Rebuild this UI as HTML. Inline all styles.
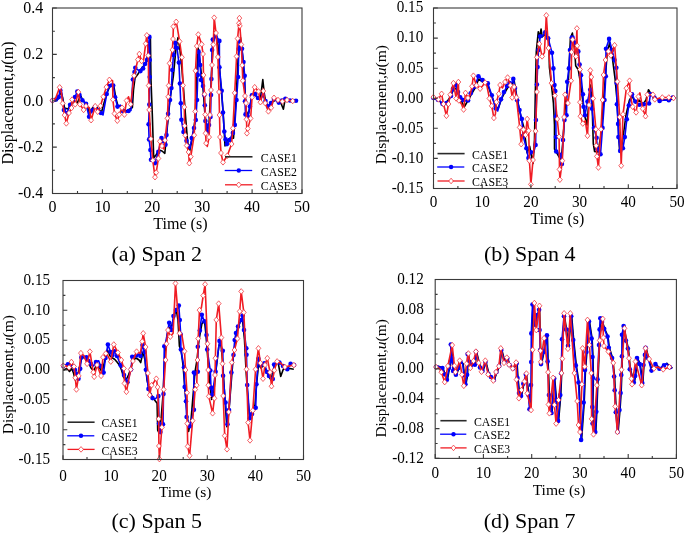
<!DOCTYPE html>
<html><head><meta charset="utf-8"><style>
html,body{margin:0;padding:0;background:#fff;}
svg{display:block;font-family:"Liberation Serif", serif;will-change:transform;}
</style></head><body>
<svg width="685" height="535" viewBox="0 0 685 535">
<rect width="685" height="535" fill="#fff"/>
<g><polyline points="52.5,100.8 55.0,101.0 58.0,99.0 60.8,92.0 62.5,97.0 64.5,108.0 68.0,109.0 71.0,104.0 74.0,101.0 77.3,102.8 79.0,99.0 80.9,96.1 83.0,101.0 86.5,104.0 89.5,113.0 92.5,108.0 95.5,106.0 98.5,109.0 101.5,112.2 104.0,103.0 107.0,93.0 110.0,86.0 113.8,86.0 115.8,98.0 118.0,106.0 121.0,106.0 124.0,110.0 127.0,111.0 130.0,109.0 132.4,107.5 133.5,90.0 135.0,78.0 138.0,74.0 141.8,67.8 145.8,63.9 148.0,55.0 150.4,37.6 151.0,80.3 152.3,114.4 153.7,157.9 156.0,155.0 159.0,150.0 162.0,151.0 164.8,153.3 167.5,125.0 170.0,100.0 173.4,75.7 176.0,48.1 178.0,37.6 180.0,50.0 182.0,70.0 184.0,95.0 185.8,119.7 187.5,140.0 189.1,153.9 192.0,140.0 195.0,120.0 196.5,80.0 198.1,48.1 200.0,62.0 203.0,88.0 205.0,115.0 207.0,130.0 209.0,125.0 211.0,85.0 213.0,45.0 215.1,31.7 218.0,45.0 220.0,75.0 223.0,110.0 225.0,146.0 227.5,140.0 230.0,138.0 233.5,138.1 236.0,100.0 238.0,60.0 240.5,37.6 242.5,55.0 244.5,80.0 246.0,110.0 248.0,116.0 250.0,106.0 252.0,96.0 255.0,95.0 258.0,98.0 260.5,98.0 262.8,79.6 264.4,94.7 266.0,103.0 268.5,106.0 272.0,102.0 276.0,100.0 280.0,101.0 283.4,109.2 285.0,100.0 290.0,101.0 296.0,100.8" fill="none" stroke="#000000" stroke-width="1.6" stroke-linejoin="round"/>
<polyline points="52.5,100.5 54.1,101.2 56.0,99.5 58.7,97.1 60.3,90.4 61.8,93.0 63.9,110.0 67.0,113.1 70.1,104.8 73.0,100.0 75.0,97.0 77.3,91.5 79.5,95.0 82.4,100.2 86.0,103.8 89.1,116.7 92.2,110.5 95.0,107.0 98.0,110.0 101.0,113.0 103.0,115.0 106.7,94.0 109.0,86.0 111.0,84.0 113.2,85.6 115.1,97.3 117.5,106.6 120.3,105.2 123.1,111.3 125.9,112.2 128.5,111.0 131.0,110.4 132.9,79.5 134.5,72.0 135.3,67.8 138.0,70.0 140.5,71.1 143.1,68.5 145.0,64.0 147.1,59.9 149.4,36.9 149.7,60.0 149.7,77.0 149.3,104.6 148.6,124.3 149.1,139.4 150.4,150.0 151.0,159.8 153.0,162.0 155.0,163.1 158.3,151.9 161.5,138.1 163.5,141.0 165.5,144.7 166.5,135.0 168.1,113.8 170.0,100.0 171.4,88.0 172.3,70.0 173.5,55.0 175.3,42.9 177.0,48.0 178.9,62.6 179.9,83.5 180.8,103.3 181.4,119.7 183.5,132.0 186.5,140.8 188.0,146.0 189.8,148.7 191.8,138.1 194.0,128.0 195.8,120.0 197.0,100.0 197.8,75.0 198.5,52.0 199.5,50.0 200.2,65.0 201.0,80.0 203.0,86.0 204.3,95.0 204.8,105.2 205.4,121.0 207.5,131.6 209.0,125.0 210.5,117.0 211.0,95.0 211.4,79.0 212.1,50.0 212.8,39.6 215.5,36.3 217.5,38.0 219.4,40.9 219.4,67.2 221.7,90.8 223.0,112.5 224.3,131.5 225.6,139.4 226.9,144.1 229.6,140.1 232.9,132.9 234.8,124.9 236.5,100.0 238.1,77.0 238.8,48.8 239.4,41.5 242.0,48.8 243.5,62.0 244.7,75.7 245.0,101.3 245.5,114.4 248.0,117.0 249.9,106.5 251.9,95.4 255.2,94.1 258.0,98.0 260.4,100.0 263.0,95.0 265.5,101.0 268.3,106.5 271.0,103.0 274.0,99.0 278.8,102.6 282.0,100.5 285.4,98.7 290.0,100.5 296.0,100.8" fill="none" stroke="#0000ff" stroke-width="1.6" stroke-linejoin="round"/>
<g fill="#0000ff"><circle cx="52.5" cy="100.5" r="2.3"/><circle cx="56.0" cy="99.5" r="2.3"/><circle cx="58.7" cy="97.1" r="2.3"/><circle cx="60.3" cy="90.4" r="2.3"/><circle cx="63.9" cy="110.0" r="2.3"/><circle cx="67.0" cy="113.1" r="2.3"/><circle cx="70.1" cy="104.8" r="2.3"/><circle cx="73.0" cy="100.0" r="2.3"/><circle cx="75.0" cy="97.0" r="2.3"/><circle cx="77.3" cy="91.5" r="2.3"/><circle cx="79.5" cy="95.0" r="2.3"/><circle cx="82.4" cy="100.2" r="2.3"/><circle cx="86.0" cy="103.8" r="2.3"/><circle cx="89.1" cy="116.7" r="2.3"/><circle cx="92.2" cy="110.5" r="2.3"/><circle cx="95.0" cy="107.0" r="2.3"/><circle cx="98.0" cy="110.0" r="2.3"/><circle cx="101.0" cy="113.0" r="2.3"/><circle cx="106.7" cy="94.0" r="2.3"/><circle cx="109.0" cy="86.0" r="2.3"/><circle cx="113.2" cy="85.6" r="2.3"/><circle cx="115.1" cy="97.3" r="2.3"/><circle cx="117.5" cy="106.6" r="2.3"/><circle cx="123.1" cy="111.3" r="2.3"/><circle cx="128.5" cy="111.0" r="2.3"/><circle cx="132.9" cy="79.5" r="2.3"/><circle cx="134.5" cy="72.0" r="2.3"/><circle cx="135.3" cy="67.8" r="2.3"/><circle cx="140.5" cy="71.1" r="2.3"/><circle cx="143.1" cy="68.5" r="2.3"/><circle cx="145.0" cy="64.0" r="2.3"/><circle cx="147.1" cy="59.9" r="2.3"/><circle cx="149.4" cy="36.9" r="2.3"/><circle cx="149.7" cy="60.0" r="2.3"/><circle cx="149.7" cy="77.0" r="2.3"/><circle cx="149.3" cy="104.6" r="2.3"/><circle cx="148.6" cy="124.3" r="2.3"/><circle cx="149.1" cy="139.4" r="2.3"/><circle cx="150.4" cy="150.0" r="2.3"/><circle cx="151.0" cy="159.8" r="2.3"/><circle cx="155.0" cy="163.1" r="2.3"/><circle cx="158.3" cy="151.9" r="2.3"/><circle cx="161.5" cy="138.1" r="2.3"/><circle cx="163.5" cy="141.0" r="2.3"/><circle cx="165.5" cy="144.7" r="2.3"/><circle cx="166.5" cy="135.0" r="2.3"/><circle cx="168.1" cy="113.8" r="2.3"/><circle cx="170.0" cy="100.0" r="2.3"/><circle cx="171.4" cy="88.0" r="2.3"/><circle cx="172.3" cy="70.0" r="2.3"/><circle cx="173.5" cy="55.0" r="2.3"/><circle cx="175.3" cy="42.9" r="2.3"/><circle cx="177.0" cy="48.0" r="2.3"/><circle cx="178.9" cy="62.6" r="2.3"/><circle cx="179.9" cy="83.5" r="2.3"/><circle cx="180.8" cy="103.3" r="2.3"/><circle cx="181.4" cy="119.7" r="2.3"/><circle cx="183.5" cy="132.0" r="2.3"/><circle cx="186.5" cy="140.8" r="2.3"/><circle cx="188.0" cy="146.0" r="2.3"/><circle cx="191.8" cy="138.1" r="2.3"/><circle cx="194.0" cy="128.0" r="2.3"/><circle cx="195.8" cy="120.0" r="2.3"/><circle cx="197.0" cy="100.0" r="2.3"/><circle cx="197.8" cy="75.0" r="2.3"/><circle cx="198.5" cy="52.0" r="2.3"/><circle cx="200.2" cy="65.0" r="2.3"/><circle cx="201.0" cy="80.0" r="2.3"/><circle cx="203.0" cy="86.0" r="2.3"/><circle cx="204.3" cy="95.0" r="2.3"/><circle cx="204.8" cy="105.2" r="2.3"/><circle cx="205.4" cy="121.0" r="2.3"/><circle cx="207.5" cy="131.6" r="2.3"/><circle cx="209.0" cy="125.0" r="2.3"/><circle cx="210.5" cy="117.0" r="2.3"/><circle cx="211.0" cy="95.0" r="2.3"/><circle cx="211.4" cy="79.0" r="2.3"/><circle cx="212.1" cy="50.0" r="2.3"/><circle cx="212.8" cy="39.6" r="2.3"/><circle cx="215.5" cy="36.3" r="2.3"/><circle cx="219.4" cy="40.9" r="2.3"/><circle cx="219.4" cy="67.2" r="2.3"/><circle cx="221.7" cy="90.8" r="2.3"/><circle cx="223.0" cy="112.5" r="2.3"/><circle cx="224.3" cy="131.5" r="2.3"/><circle cx="225.6" cy="139.4" r="2.3"/><circle cx="226.9" cy="144.1" r="2.3"/><circle cx="229.6" cy="140.1" r="2.3"/><circle cx="232.9" cy="132.9" r="2.3"/><circle cx="234.8" cy="124.9" r="2.3"/><circle cx="236.5" cy="100.0" r="2.3"/><circle cx="238.1" cy="77.0" r="2.3"/><circle cx="238.8" cy="48.8" r="2.3"/><circle cx="239.4" cy="41.5" r="2.3"/><circle cx="242.0" cy="48.8" r="2.3"/><circle cx="243.5" cy="62.0" r="2.3"/><circle cx="244.7" cy="75.7" r="2.3"/><circle cx="245.0" cy="101.3" r="2.3"/><circle cx="245.5" cy="114.4" r="2.3"/><circle cx="248.0" cy="117.0" r="2.3"/><circle cx="249.9" cy="106.5" r="2.3"/><circle cx="251.9" cy="95.4" r="2.3"/><circle cx="255.2" cy="94.1" r="2.3"/><circle cx="258.0" cy="98.0" r="2.3"/><circle cx="263.0" cy="95.0" r="2.3"/><circle cx="265.5" cy="101.0" r="2.3"/><circle cx="268.3" cy="106.5" r="2.3"/><circle cx="271.0" cy="103.0" r="2.3"/><circle cx="274.0" cy="99.0" r="2.3"/><circle cx="278.8" cy="102.6" r="2.3"/><circle cx="282.0" cy="100.5" r="2.3"/><circle cx="285.4" cy="98.7" r="2.3"/><circle cx="290.0" cy="100.5" r="2.3"/><circle cx="296.0" cy="100.8" r="2.3"/></g>
<polyline points="52.5,100.5 55.6,98.4 59.7,87.3 61.2,90.9 62.7,103.4 64.6,115.1 66.3,123.4 69.0,113.0 71.5,108.0 72.1,99.6 75.2,104.3 78.4,92.1 79.9,104.3 83.6,109.9 86.0,106.0 89.3,107.7 91.1,120.2 95.2,106.2 97.7,111.8 100.5,105.8 103.3,96.8 106.4,87.1 109.4,79.8 112.6,80.7 112.9,99.6 114.5,113.6 117.3,120.7 119.2,114.6 122.0,107.7 124.4,114.6 126.6,100.6 128.5,96.8 130.7,104.3 134.1,75.7 137.9,59.6 139.3,54.0 141.6,61.0 143.5,60.7 145.7,43.7 146.8,35.3 148.3,55.5 148.7,85.6 149.2,109.9 150.9,138.9 152.8,160.4 155.0,177.2 156.2,172.5 158.4,158.5 159.9,141.3 162.0,146.0 164.0,149.2 165.0,140.2 167.4,118.3 168.2,96.8 168.7,85.6 169.6,63.3 172.4,49.9 173.0,39.0 173.4,26.5 175.6,23.7 176.2,21.8 177.0,25.6 179.6,41.4 181.9,57.3 183.0,85.4 184.3,107.1 184.6,125.8 185.2,135.2 186.7,145.5 188.6,152.0 189.3,163.2 190.8,156.7 194.2,135.2 195.2,111.4 195.5,70.8 196.8,46.1 198.3,34.5 201.7,44.3 203.0,54.0 203.5,75.1 204.5,94.3 205.2,114.6 205.6,133.3 206.1,143.2 207.3,146.4 209.1,137.1 210.0,115.0 211.0,90.0 212.0,65.0 213.3,44.6 214.2,17.7 216.0,33.0 217.9,57.0 219.0,92.0 219.5,115.0 220.0,137.0 221.0,153.0 223.0,162.3 227.3,155.7 231.6,144.0 232.9,128.3 234.7,92.9 236.6,56.4 237.6,38.6 239.0,23.3 239.4,18.1 239.8,25.9 241.3,44.6 242.2,65.2 242.8,80.7 245.0,96.0 246.0,103.1 246.5,119.3 246.9,133.3 247.8,128.6 250.6,118.4 252.1,97.2 254.7,87.2 258.5,91.4 260.4,102.2 263.3,91.0 265.2,103.1 268.4,111.4 271.2,107.7 274.0,97.8 278.0,100.0 282.4,101.5 287.0,100.0 292.7,101.0" fill="none" stroke="#f01c24" stroke-width="1.6" stroke-linejoin="round"/>
<path d="M52.5 97.7L54.9 100.5L52.5 103.3L50.1 100.5ZM59.7 84.5L62.1 87.3L59.7 90.1L57.3 87.3ZM62.7 100.6L65.1 103.4L62.7 106.2L60.3 103.4ZM64.6 112.3L67.0 115.1L64.6 117.9L62.2 115.1ZM66.3 120.6L68.7 123.4L66.3 126.2L63.9 123.4ZM69.0 110.2L71.4 113.0L69.0 115.8L66.6 113.0ZM71.5 105.2L73.9 108.0L71.5 110.8L69.1 108.0ZM72.1 96.8L74.5 99.6L72.1 102.4L69.7 99.6ZM75.2 101.5L77.6 104.3L75.2 107.1L72.8 104.3ZM78.4 89.3L80.8 92.1L78.4 94.9L76.0 92.1ZM79.9 101.5L82.3 104.3L79.9 107.1L77.5 104.3ZM83.6 107.1L86.0 109.9L83.6 112.7L81.2 109.9ZM86.0 103.2L88.4 106.0L86.0 108.8L83.6 106.0ZM91.1 117.4L93.5 120.2L91.1 123.0L88.7 120.2ZM95.2 103.4L97.6 106.2L95.2 109.0L92.8 106.2ZM97.7 109.0L100.1 111.8L97.7 114.6L95.3 111.8ZM100.5 103.0L102.9 105.8L100.5 108.6L98.1 105.8ZM103.3 94.0L105.7 96.8L103.3 99.6L100.9 96.8ZM106.4 84.3L108.8 87.1L106.4 89.9L104.0 87.1ZM109.4 77.0L111.8 79.8L109.4 82.6L107.0 79.8ZM112.9 96.8L115.3 99.6L112.9 102.4L110.5 99.6ZM114.5 110.8L116.9 113.6L114.5 116.4L112.1 113.6ZM117.3 117.9L119.7 120.7L117.3 123.5L114.9 120.7ZM119.2 111.8L121.6 114.6L119.2 117.4L116.8 114.6ZM122.0 104.9L124.4 107.7L122.0 110.5L119.6 107.7ZM124.4 111.8L126.8 114.6L124.4 117.4L122.0 114.6ZM126.6 97.8L129.0 100.6L126.6 103.4L124.2 100.6ZM130.7 101.5L133.1 104.3L130.7 107.1L128.3 104.3ZM134.1 72.9L136.5 75.7L134.1 78.5L131.7 75.7ZM137.9 56.8L140.3 59.6L137.9 62.4L135.5 59.6ZM139.3 51.2L141.7 54.0L139.3 56.8L136.9 54.0ZM141.6 58.2L144.0 61.0L141.6 63.8L139.2 61.0ZM145.7 40.9L148.1 43.7L145.7 46.5L143.3 43.7ZM146.8 32.5L149.2 35.3L146.8 38.1L144.4 35.3ZM148.3 52.7L150.7 55.5L148.3 58.3L145.9 55.5ZM148.7 82.8L151.1 85.6L148.7 88.4L146.3 85.6ZM149.2 107.1L151.6 109.9L149.2 112.7L146.8 109.9ZM150.9 136.1L153.3 138.9L150.9 141.7L148.5 138.9ZM152.8 157.6L155.2 160.4L152.8 163.2L150.4 160.4ZM155.0 174.4L157.4 177.2L155.0 180.0L152.6 177.2ZM156.2 169.7L158.6 172.5L156.2 175.3L153.8 172.5ZM158.4 155.7L160.8 158.5L158.4 161.3L156.0 158.5ZM159.9 138.5L162.3 141.3L159.9 144.1L157.5 141.3ZM162.0 143.2L164.4 146.0L162.0 148.8L159.6 146.0ZM165.0 137.4L167.4 140.2L165.0 143.0L162.6 140.2ZM167.4 115.5L169.8 118.3L167.4 121.1L165.0 118.3ZM168.2 94.0L170.6 96.8L168.2 99.6L165.8 96.8ZM168.7 82.8L171.1 85.6L168.7 88.4L166.3 85.6ZM169.6 60.5L172.0 63.3L169.6 66.1L167.2 63.3ZM172.4 47.1L174.8 49.9L172.4 52.7L170.0 49.9ZM173.0 36.2L175.4 39.0L173.0 41.8L170.6 39.0ZM173.4 23.7L175.8 26.5L173.4 29.3L171.0 26.5ZM176.2 19.0L178.6 21.8L176.2 24.6L173.8 21.8ZM179.6 38.6L182.0 41.4L179.6 44.2L177.2 41.4ZM181.9 54.5L184.3 57.3L181.9 60.1L179.5 57.3ZM183.0 82.6L185.4 85.4L183.0 88.2L180.6 85.4ZM184.3 104.3L186.7 107.1L184.3 109.9L181.9 107.1ZM184.6 123.0L187.0 125.8L184.6 128.6L182.2 125.8ZM185.2 132.4L187.6 135.2L185.2 138.0L182.8 135.2ZM186.7 142.7L189.1 145.5L186.7 148.3L184.3 145.5ZM188.6 149.2L191.0 152.0L188.6 154.8L186.2 152.0ZM189.3 160.4L191.7 163.2L189.3 166.0L186.9 163.2ZM190.8 153.9L193.2 156.7L190.8 159.5L188.4 156.7ZM194.2 132.4L196.6 135.2L194.2 138.0L191.8 135.2ZM195.2 108.6L197.6 111.4L195.2 114.2L192.8 111.4ZM195.5 68.0L197.9 70.8L195.5 73.6L193.1 70.8ZM196.8 43.3L199.2 46.1L196.8 48.9L194.4 46.1ZM198.3 31.7L200.7 34.5L198.3 37.3L195.9 34.5ZM201.7 41.5L204.1 44.3L201.7 47.1L199.3 44.3ZM203.0 51.2L205.4 54.0L203.0 56.8L200.6 54.0ZM203.5 72.3L205.9 75.1L203.5 77.9L201.1 75.1ZM204.5 91.5L206.9 94.3L204.5 97.1L202.1 94.3ZM205.2 111.8L207.6 114.6L205.2 117.4L202.8 114.6ZM205.6 130.5L208.0 133.3L205.6 136.1L203.2 133.3ZM206.1 140.4L208.5 143.2L206.1 146.0L203.7 143.2ZM209.1 134.3L211.5 137.1L209.1 139.9L206.7 137.1ZM210.0 112.2L212.4 115.0L210.0 117.8L207.6 115.0ZM211.0 87.2L213.4 90.0L211.0 92.8L208.6 90.0ZM212.0 62.2L214.4 65.0L212.0 67.8L209.6 65.0ZM213.3 41.8L215.7 44.6L213.3 47.4L210.9 44.6ZM214.2 14.9L216.6 17.7L214.2 20.5L211.8 17.7ZM216.0 30.2L218.4 33.0L216.0 35.8L213.6 33.0ZM217.9 54.2L220.3 57.0L217.9 59.8L215.5 57.0ZM219.0 89.2L221.4 92.0L219.0 94.8L216.6 92.0ZM219.5 112.2L221.9 115.0L219.5 117.8L217.1 115.0ZM220.0 134.2L222.4 137.0L220.0 139.8L217.6 137.0ZM221.0 150.2L223.4 153.0L221.0 155.8L218.6 153.0ZM223.0 159.5L225.4 162.3L223.0 165.1L220.6 162.3ZM227.3 152.9L229.7 155.7L227.3 158.5L224.9 155.7ZM231.6 141.2L234.0 144.0L231.6 146.8L229.2 144.0ZM232.9 125.5L235.3 128.3L232.9 131.1L230.5 128.3ZM234.7 90.1L237.1 92.9L234.7 95.7L232.3 92.9ZM236.6 53.6L239.0 56.4L236.6 59.2L234.2 56.4ZM237.6 35.8L240.0 38.6L237.6 41.4L235.2 38.6ZM239.0 20.5L241.4 23.3L239.0 26.1L236.6 23.3ZM239.4 15.3L241.8 18.1L239.4 20.9L237.0 18.1ZM239.8 23.1L242.2 25.9L239.8 28.7L237.4 25.9ZM241.3 41.8L243.7 44.6L241.3 47.4L238.9 44.6ZM242.2 62.4L244.6 65.2L242.2 68.0L239.8 65.2ZM242.8 77.9L245.2 80.7L242.8 83.5L240.4 80.7ZM245.0 93.2L247.4 96.0L245.0 98.8L242.6 96.0ZM246.0 100.3L248.4 103.1L246.0 105.9L243.6 103.1ZM246.5 116.5L248.9 119.3L246.5 122.1L244.1 119.3ZM246.9 130.5L249.3 133.3L246.9 136.1L244.5 133.3ZM247.8 125.8L250.2 128.6L247.8 131.4L245.4 128.6ZM250.6 115.6L253.0 118.4L250.6 121.2L248.2 118.4ZM252.1 94.4L254.5 97.2L252.1 100.0L249.7 97.2ZM254.7 84.4L257.1 87.2L254.7 90.0L252.3 87.2ZM258.5 88.6L260.9 91.4L258.5 94.2L256.1 91.4ZM260.4 99.4L262.8 102.2L260.4 105.0L258.0 102.2ZM263.3 88.2L265.7 91.0L263.3 93.8L260.9 91.0ZM265.2 100.3L267.6 103.1L265.2 105.9L262.8 103.1ZM268.4 108.6L270.8 111.4L268.4 114.2L266.0 111.4ZM271.2 104.9L273.6 107.7L271.2 110.5L268.8 107.7ZM274.0 95.0L276.4 97.8L274.0 100.6L271.6 97.8ZM278.0 97.2L280.4 100.0L278.0 102.8L275.6 100.0ZM282.4 98.7L284.8 101.5L282.4 104.3L280.0 101.5ZM287.0 97.2L289.4 100.0L287.0 102.8L284.6 100.0ZM292.7 98.2L295.1 101.0L292.7 103.8L290.3 101.0Z" fill="#fff" stroke="#f01c24" stroke-width="0.7"/>
<rect x="52.5" y="8.0" width="249.5" height="185.5" fill="none" stroke="#3a3a3a" stroke-width="1.1"/>
<path d="M52.5 193.5H56.8M52.5 170.3H54.9M52.5 147.1H56.8M52.5 123.9H54.9M52.5 100.8H56.8M52.5 77.6H54.9M52.5 54.4H56.8M52.5 31.2H54.9M52.5 8.0H56.8M52.5 193.5V189.2M77.5 193.5V191.1M102.4 193.5V189.2M127.3 193.5V191.1M152.3 193.5V189.2M177.2 193.5V191.1M202.2 193.5V189.2M227.1 193.5V191.1M252.1 193.5V189.2M277.1 193.5V191.1M302.0 193.5V189.2" stroke="#3a3a3a" stroke-width="1.1" fill="none"/>
<g font-size="16.0"><text transform="translate(43.3 198.4) scale(1 1.02)" text-anchor="end">-0.4</text><text transform="translate(43.3 152.0) scale(1 1.02)" text-anchor="end">-0.2</text><text transform="translate(43.3 105.6) scale(1 1.02)" text-anchor="end">0.0</text><text transform="translate(43.3 59.3) scale(1 1.02)" text-anchor="end">0.2</text><text transform="translate(43.3 12.9) scale(1 1.02)" text-anchor="end">0.4</text><text transform="translate(52.5 211.7) scale(1 1.02)" text-anchor="middle">0</text><text transform="translate(102.4 211.7) scale(1 1.02)" text-anchor="middle">10</text><text transform="translate(152.3 211.7) scale(1 1.02)" text-anchor="middle">20</text><text transform="translate(202.2 211.7) scale(1 1.02)" text-anchor="middle">30</text><text transform="translate(252.1 211.7) scale(1 1.02)" text-anchor="middle">40</text><text transform="translate(302.0 211.7) scale(1 1.02)" text-anchor="middle">50</text></g>
<text x="180.4" y="229.3" font-size="16.10" text-anchor="middle">Time (s)</text>
<text x="156.7" y="260.5" font-size="22.0" text-anchor="middle">(a) Span 2</text>
<text transform="translate(12.9 164.6) rotate(-90)" font-size="16.0">Displacement,<tspan font-style="italic">u</tspan>(m)</text>
<line x1="225.0" y1="156.8" x2="252.5" y2="156.8" stroke="#2a2a2a" stroke-width="1.6"/>
<line x1="224.7" y1="170.5" x2="252.2" y2="170.5" stroke="#0000ff" stroke-width="1.3"/>
<circle cx="238.8" cy="170.5" r="2.2" fill="#0000ff"/>
<line x1="225.0" y1="184.8" x2="252.5" y2="184.8" stroke="#f01c24" stroke-width="1.3"/>
<path d="M238.8 182.0L241.2 184.8L238.8 187.6L236.3 184.8Z" fill="#fff" stroke="#f01c24" stroke-width="0.7"/>
<text x="260.8" y="162.0" font-size="11.8">CASE1</text>
<text x="260.8" y="175.7" font-size="11.8">CASE2</text>
<text x="260.8" y="190.0" font-size="11.8">CASE3</text></g>
<g><polyline points="433.4,98.5 438.0,100.0 440.5,102.0 443.1,105.7 446.5,102.0 449.0,99.0 451.5,94.0 453.5,90.0 456.0,88.0 458.5,95.0 461.0,100.0 464.2,107.0 466.5,103.0 469.0,99.0 471.5,94.0 475.0,88.0 478.8,79.0 482.8,82.0 486.0,84.0 488.5,87.0 492.0,97.0 495.5,106.0 498.0,109.0 501.5,99.0 504.5,93.0 507.5,88.0 510.0,85.0 511.0,86.0 514.0,80.0 517.0,98.0 521.0,117.0 524.0,128.0 527.1,152.9 529.7,146.3 533.0,163.4 534.5,140.0 535.6,78.3 536.3,51.4 538.3,31.7 539.5,38.0 541.1,29.0 542.2,36.9 545.0,34.0 548.8,38.2 549.4,67.1 550.7,78.3 553.4,102.9 554.5,125.0 554.5,149.0 558.0,155.0 561.2,160.7 563.0,140.0 565.0,110.0 567.0,90.0 568.5,78.3 570.4,38.2 572.4,33.0 574.4,47.4 575.7,65.8 578.3,69.8 580.0,80.0 582.0,95.0 584.5,115.0 587.0,125.0 589.0,100.0 590.5,85.0 592.0,100.0 593.3,143.7 594.6,151.5 598.0,152.0 601.0,135.0 603.5,100.0 605.5,76.0 607.0,55.0 609.7,42.2 612.0,55.0 615.0,78.3 617.0,100.0 619.6,151.5 622.0,145.0 624.0,130.0 626.0,115.0 629.4,100.2 632.0,96.0 635.5,103.0 639.0,100.0 643.0,104.0 646.0,100.0 648.5,89.7 651.0,94.0 655.0,98.0 660.0,100.0 668.0,100.0 673.0,99.0" fill="none" stroke="#000000" stroke-width="1.6" stroke-linejoin="round"/>
<polyline points="433.4,98.0 437.9,99.8 440.0,101.0 442.5,103.8 446.4,103.1 448.5,101.0 451.0,96.0 453.0,88.7 455.6,84.7 458.0,92.0 460.2,97.2 463.0,100.0 465.5,101.0 468.1,100.5 470.7,93.3 474.7,86.7 478.4,76.2 482.6,80.1 485.0,82.0 487.8,83.4 491.8,95.2 495.7,108.4 497.7,111.0 501.0,99.2 504.0,92.0 507.0,86.0 509.5,83.0 511.0,85.0 513.3,78.9 515.0,88.0 517.2,100.2 519.5,110.0 521.8,118.9 523.1,135.8 526.4,148.3 528.4,158.1 531.0,152.2 533.7,152.2 535.6,145.0 535.9,120.0 536.9,84.5 537.6,67.1 538.5,50.0 540.2,36.3 542.9,35.6 545.2,32.3 548.1,38.2 552.0,52.7 553.4,68.4 554.5,85.0 555.3,91.0 555.8,116.6 556.0,137.1 556.2,151.5 560.6,154.8 561.9,164.0 563.0,140.0 564.5,120.0 566.5,115.3 567.2,81.8 568.9,68.4 570.0,50.0 571.8,37.6 573.7,36.3 575.0,42.8 578.3,51.4 579.6,64.5 581.0,75.3 582.9,94.3 583.6,106.8 584.9,115.3 587.5,101.5 590.2,89.7 592.1,108.8 593.9,127.9 596.6,137.7 597.2,148.9 600.5,154.2 602.5,127.9 604.5,100.0 605.8,76.3 606.0,48.7 609.1,38.9 612.0,50.0 614.5,60.0 616.3,67.8 616.6,83.0 616.9,104.2 618.1,123.9 618.4,137.1 620.2,150.9 622.9,148.3 624.8,137.1 626.8,119.3 628.8,105.5 632.0,94.3 635.3,101.5 639.3,104.8 643.9,104.2 649.1,103.5 650.4,94.3 654.4,97.6 659.6,100.9 663.0,100.2 668.8,100.2 672.8,97.6 676.0,98.0" fill="none" stroke="#0000ff" stroke-width="1.6" stroke-linejoin="round"/>
<g fill="#0000ff"><circle cx="433.4" cy="98.0" r="2.3"/><circle cx="437.9" cy="99.8" r="2.3"/><circle cx="442.5" cy="103.8" r="2.3"/><circle cx="446.4" cy="103.1" r="2.3"/><circle cx="451.0" cy="96.0" r="2.3"/><circle cx="453.0" cy="88.7" r="2.3"/><circle cx="455.6" cy="84.7" r="2.3"/><circle cx="458.0" cy="92.0" r="2.3"/><circle cx="460.2" cy="97.2" r="2.3"/><circle cx="463.0" cy="100.0" r="2.3"/><circle cx="468.1" cy="100.5" r="2.3"/><circle cx="470.7" cy="93.3" r="2.3"/><circle cx="474.7" cy="86.7" r="2.3"/><circle cx="478.4" cy="76.2" r="2.3"/><circle cx="482.6" cy="80.1" r="2.3"/><circle cx="487.8" cy="83.4" r="2.3"/><circle cx="491.8" cy="95.2" r="2.3"/><circle cx="495.7" cy="108.4" r="2.3"/><circle cx="501.0" cy="99.2" r="2.3"/><circle cx="504.0" cy="92.0" r="2.3"/><circle cx="507.0" cy="86.0" r="2.3"/><circle cx="509.5" cy="83.0" r="2.3"/><circle cx="513.3" cy="78.9" r="2.3"/><circle cx="515.0" cy="88.0" r="2.3"/><circle cx="517.2" cy="100.2" r="2.3"/><circle cx="519.5" cy="110.0" r="2.3"/><circle cx="521.8" cy="118.9" r="2.3"/><circle cx="523.1" cy="135.8" r="2.3"/><circle cx="526.4" cy="148.3" r="2.3"/><circle cx="528.4" cy="158.1" r="2.3"/><circle cx="531.0" cy="152.2" r="2.3"/><circle cx="535.6" cy="145.0" r="2.3"/><circle cx="535.9" cy="120.0" r="2.3"/><circle cx="536.9" cy="84.5" r="2.3"/><circle cx="537.6" cy="67.1" r="2.3"/><circle cx="538.5" cy="50.0" r="2.3"/><circle cx="540.2" cy="36.3" r="2.3"/><circle cx="545.2" cy="32.3" r="2.3"/><circle cx="548.1" cy="38.2" r="2.3"/><circle cx="552.0" cy="52.7" r="2.3"/><circle cx="553.4" cy="68.4" r="2.3"/><circle cx="554.5" cy="85.0" r="2.3"/><circle cx="555.3" cy="91.0" r="2.3"/><circle cx="555.8" cy="116.6" r="2.3"/><circle cx="556.0" cy="137.1" r="2.3"/><circle cx="556.2" cy="151.5" r="2.3"/><circle cx="560.6" cy="154.8" r="2.3"/><circle cx="561.9" cy="164.0" r="2.3"/><circle cx="563.0" cy="140.0" r="2.3"/><circle cx="564.5" cy="120.0" r="2.3"/><circle cx="566.5" cy="115.3" r="2.3"/><circle cx="567.2" cy="81.8" r="2.3"/><circle cx="568.9" cy="68.4" r="2.3"/><circle cx="570.0" cy="50.0" r="2.3"/><circle cx="571.8" cy="37.6" r="2.3"/><circle cx="575.0" cy="42.8" r="2.3"/><circle cx="578.3" cy="51.4" r="2.3"/><circle cx="579.6" cy="64.5" r="2.3"/><circle cx="581.0" cy="75.3" r="2.3"/><circle cx="582.9" cy="94.3" r="2.3"/><circle cx="583.6" cy="106.8" r="2.3"/><circle cx="584.9" cy="115.3" r="2.3"/><circle cx="587.5" cy="101.5" r="2.3"/><circle cx="590.2" cy="89.7" r="2.3"/><circle cx="592.1" cy="108.8" r="2.3"/><circle cx="593.9" cy="127.9" r="2.3"/><circle cx="596.6" cy="137.7" r="2.3"/><circle cx="597.2" cy="148.9" r="2.3"/><circle cx="600.5" cy="154.2" r="2.3"/><circle cx="602.5" cy="127.9" r="2.3"/><circle cx="604.5" cy="100.0" r="2.3"/><circle cx="605.8" cy="76.3" r="2.3"/><circle cx="606.0" cy="48.7" r="2.3"/><circle cx="609.1" cy="38.9" r="2.3"/><circle cx="612.0" cy="50.0" r="2.3"/><circle cx="614.5" cy="60.0" r="2.3"/><circle cx="616.3" cy="67.8" r="2.3"/><circle cx="616.6" cy="83.0" r="2.3"/><circle cx="616.9" cy="104.2" r="2.3"/><circle cx="618.1" cy="123.9" r="2.3"/><circle cx="618.4" cy="137.1" r="2.3"/><circle cx="620.2" cy="150.9" r="2.3"/><circle cx="622.9" cy="148.3" r="2.3"/><circle cx="624.8" cy="137.1" r="2.3"/><circle cx="626.8" cy="119.3" r="2.3"/><circle cx="628.8" cy="105.5" r="2.3"/><circle cx="632.0" cy="94.3" r="2.3"/><circle cx="635.3" cy="101.5" r="2.3"/><circle cx="639.3" cy="104.8" r="2.3"/><circle cx="643.9" cy="104.2" r="2.3"/><circle cx="649.1" cy="103.5" r="2.3"/><circle cx="650.4" cy="94.3" r="2.3"/><circle cx="654.4" cy="97.6" r="2.3"/><circle cx="659.6" cy="100.9" r="2.3"/><circle cx="668.8" cy="100.2" r="2.3"/><circle cx="672.8" cy="97.6" r="2.3"/></g>
<polyline points="433.4,97.1 438.4,99.4 441.6,93.8 443.5,104.0 446.4,115.8 448.5,104.0 450.2,94.7 453.4,83.1 456.2,98.5 458.4,82.0 458.9,100.5 461.5,104.0 463.6,109.6 465.5,92.9 468.0,98.0 470.2,94.7 472.0,86.3 473.4,75.7 476.4,85.4 480.1,88.7 482.5,86.0 485.1,82.6 487.0,86.3 489.4,98.4 491.7,105.9 493.9,118.0 495.4,113.9 496.4,102.1 498.8,93.8 500.1,85.0 502.5,88.0 505.0,82.0 507.6,77.5 510.4,85.4 512.2,97.5 514.1,86.9 516.4,97.5 519.7,127.4 521.2,144.2 523.5,129.6 525.5,135.0 527.2,119.0 528.7,130.7 529.4,160.7 530.9,184.4 533.0,160.0 535.6,131.1 536.9,91.9 536.9,57.3 539.3,43.9 542.1,56.4 544.4,52.7 546.3,15.3 548.5,48.0 551.5,83.1 554.9,95.7 557.2,119.0 559.1,136.7 559.5,169.4 559.9,179.7 562.3,160.7 564.1,117.1 565.1,94.7 567.9,103.1 571.1,80.7 571.6,52.1 572.6,39.6 575.9,56.4 576.9,28.4 577.2,45.7 580.0,69.5 580.0,102.2 580.4,116.2 582.8,123.6 585.3,120.8 587.5,135.8 589.0,105.0 590.3,70.4 591.3,77.0 593.1,98.5 595.9,129.3 596.2,145.7 596.9,156.4 598.4,167.6 601.0,129.3 602.5,100.0 603.5,75.0 605.5,60.0 608.4,51.4 610.9,55.5 614.6,45.2 617.4,81.6 619.7,117.1 621.2,165.7 623.0,114.3 626.4,88.2 629.6,80.7 630.1,93.8 632.7,106.8 636.1,112.4 638.4,96.6 639.9,92.9 642.7,108.7 645.5,116.2 647.3,94.7 652.9,94.7 654.8,99.4 662.3,97.5 668.8,97.5 673.5,98.1" fill="none" stroke="#f01c24" stroke-width="1.6" stroke-linejoin="round"/>
<path d="M433.4 94.3L435.8 97.1L433.4 99.9L431.0 97.1ZM438.4 96.6L440.8 99.4L438.4 102.2L436.0 99.4ZM441.6 91.0L444.0 93.8L441.6 96.6L439.2 93.8ZM443.5 101.2L445.9 104.0L443.5 106.8L441.1 104.0ZM446.4 113.0L448.8 115.8L446.4 118.6L444.0 115.8ZM448.5 101.2L450.9 104.0L448.5 106.8L446.1 104.0ZM450.2 91.9L452.6 94.7L450.2 97.5L447.8 94.7ZM453.4 80.3L455.8 83.1L453.4 85.9L451.0 83.1ZM456.2 95.7L458.6 98.5L456.2 101.3L453.8 98.5ZM458.4 79.2L460.8 82.0L458.4 84.8L456.0 82.0ZM458.9 97.7L461.3 100.5L458.9 103.3L456.5 100.5ZM463.6 106.8L466.0 109.6L463.6 112.4L461.2 109.6ZM465.5 90.1L467.9 92.9L465.5 95.7L463.1 92.9ZM468.0 95.2L470.4 98.0L468.0 100.8L465.6 98.0ZM472.0 83.5L474.4 86.3L472.0 89.1L469.6 86.3ZM473.4 72.9L475.8 75.7L473.4 78.5L471.0 75.7ZM476.4 82.6L478.8 85.4L476.4 88.2L474.0 85.4ZM480.1 85.9L482.5 88.7L480.1 91.5L477.7 88.7ZM485.1 79.8L487.5 82.6L485.1 85.4L482.7 82.6ZM489.4 95.6L491.8 98.4L489.4 101.2L487.0 98.4ZM491.7 103.1L494.1 105.9L491.7 108.7L489.3 105.9ZM493.9 115.2L496.3 118.0L493.9 120.8L491.5 118.0ZM496.4 99.3L498.8 102.1L496.4 104.9L494.0 102.1ZM498.8 91.0L501.2 93.8L498.8 96.6L496.4 93.8ZM500.1 82.2L502.5 85.0L500.1 87.8L497.7 85.0ZM505.0 79.2L507.4 82.0L505.0 84.8L502.6 82.0ZM507.6 74.7L510.0 77.5L507.6 80.3L505.2 77.5ZM510.4 82.6L512.8 85.4L510.4 88.2L508.0 85.4ZM512.2 94.7L514.6 97.5L512.2 100.3L509.8 97.5ZM514.1 84.1L516.5 86.9L514.1 89.7L511.7 86.9ZM516.4 94.7L518.8 97.5L516.4 100.3L514.0 97.5ZM519.7 124.6L522.1 127.4L519.7 130.2L517.3 127.4ZM521.2 141.4L523.6 144.2L521.2 147.0L518.8 144.2ZM523.5 126.8L525.9 129.6L523.5 132.4L521.1 129.6ZM525.5 132.2L527.9 135.0L525.5 137.8L523.1 135.0ZM527.2 116.2L529.6 119.0L527.2 121.8L524.8 119.0ZM528.7 127.9L531.1 130.7L528.7 133.5L526.3 130.7ZM529.4 157.9L531.8 160.7L529.4 163.5L527.0 160.7ZM530.9 181.6L533.3 184.4L530.9 187.2L528.5 184.4ZM533.0 157.2L535.4 160.0L533.0 162.8L530.6 160.0ZM535.6 128.3L538.0 131.1L535.6 133.9L533.2 131.1ZM536.9 89.1L539.3 91.9L536.9 94.7L534.5 91.9ZM536.9 54.5L539.3 57.3L536.9 60.1L534.5 57.3ZM539.3 41.1L541.7 43.9L539.3 46.7L536.9 43.9ZM542.1 53.6L544.5 56.4L542.1 59.2L539.7 56.4ZM546.3 12.5L548.7 15.3L546.3 18.1L543.9 15.3ZM548.5 45.2L550.9 48.0L548.5 50.8L546.1 48.0ZM551.5 80.3L553.9 83.1L551.5 85.9L549.1 83.1ZM554.9 92.9L557.3 95.7L554.9 98.5L552.5 95.7ZM557.2 116.2L559.6 119.0L557.2 121.8L554.8 119.0ZM559.1 133.9L561.5 136.7L559.1 139.5L556.7 136.7ZM559.5 166.6L561.9 169.4L559.5 172.2L557.1 169.4ZM559.9 176.9L562.3 179.7L559.9 182.5L557.5 179.7ZM562.3 157.9L564.7 160.7L562.3 163.5L559.9 160.7ZM564.1 114.3L566.5 117.1L564.1 119.9L561.7 117.1ZM565.1 91.9L567.5 94.7L565.1 97.5L562.7 94.7ZM567.9 100.3L570.3 103.1L567.9 105.9L565.5 103.1ZM571.1 77.9L573.5 80.7L571.1 83.5L568.7 80.7ZM571.6 49.3L574.0 52.1L571.6 54.9L569.2 52.1ZM572.6 36.8L575.0 39.6L572.6 42.4L570.2 39.6ZM575.9 53.6L578.3 56.4L575.9 59.2L573.5 56.4ZM576.9 25.6L579.3 28.4L576.9 31.2L574.5 28.4ZM577.2 42.9L579.6 45.7L577.2 48.5L574.8 45.7ZM580.0 66.7L582.4 69.5L580.0 72.3L577.6 69.5ZM580.0 99.4L582.4 102.2L580.0 105.0L577.6 102.2ZM580.4 113.4L582.8 116.2L580.4 119.0L578.0 116.2ZM582.8 120.8L585.2 123.6L582.8 126.4L580.4 123.6ZM587.5 133.0L589.9 135.8L587.5 138.6L585.1 135.8ZM589.0 102.2L591.4 105.0L589.0 107.8L586.6 105.0ZM590.3 67.6L592.7 70.4L590.3 73.2L587.9 70.4ZM591.3 74.2L593.7 77.0L591.3 79.8L588.9 77.0ZM593.1 95.7L595.5 98.5L593.1 101.3L590.7 98.5ZM595.9 126.5L598.3 129.3L595.9 132.1L593.5 129.3ZM596.2 142.9L598.6 145.7L596.2 148.5L593.8 145.7ZM596.9 153.6L599.3 156.4L596.9 159.2L594.5 156.4ZM598.4 164.8L600.8 167.6L598.4 170.4L596.0 167.6ZM601.0 126.5L603.4 129.3L601.0 132.1L598.6 129.3ZM602.5 97.2L604.9 100.0L602.5 102.8L600.1 100.0ZM603.5 72.2L605.9 75.0L603.5 77.8L601.1 75.0ZM605.5 57.2L607.9 60.0L605.5 62.8L603.1 60.0ZM608.4 48.6L610.8 51.4L608.4 54.2L606.0 51.4ZM610.9 52.7L613.3 55.5L610.9 58.3L608.5 55.5ZM614.6 42.4L617.0 45.2L614.6 48.0L612.2 45.2ZM617.4 78.8L619.8 81.6L617.4 84.4L615.0 81.6ZM619.7 114.3L622.1 117.1L619.7 119.9L617.3 117.1ZM621.2 162.9L623.6 165.7L621.2 168.5L618.8 165.7ZM623.0 111.5L625.4 114.3L623.0 117.1L620.6 114.3ZM626.4 85.4L628.8 88.2L626.4 91.0L624.0 88.2ZM629.6 77.9L632.0 80.7L629.6 83.5L627.2 80.7ZM630.1 91.0L632.5 93.8L630.1 96.6L627.7 93.8ZM632.7 104.0L635.1 106.8L632.7 109.6L630.3 106.8ZM636.1 109.6L638.5 112.4L636.1 115.2L633.7 112.4ZM638.4 93.8L640.8 96.6L638.4 99.4L636.0 96.6ZM642.7 105.9L645.1 108.7L642.7 111.5L640.3 108.7ZM645.5 113.4L647.9 116.2L645.5 119.0L643.1 116.2ZM647.3 91.9L649.7 94.7L647.3 97.5L644.9 94.7ZM652.9 91.9L655.3 94.7L652.9 97.5L650.5 94.7ZM654.8 96.6L657.2 99.4L654.8 102.2L652.4 99.4ZM662.3 94.7L664.7 97.5L662.3 100.3L659.9 97.5ZM668.8 94.7L671.2 97.5L668.8 100.3L666.4 97.5ZM673.5 95.3L675.9 98.1L673.5 100.9L671.1 98.1Z" fill="#fff" stroke="#f01c24" stroke-width="0.7"/>
<rect x="433.5" y="8.0" width="243.5" height="180.5" fill="none" stroke="#3a3a3a" stroke-width="1.1"/>
<path d="M433.5 188.5H437.8M433.5 173.5H435.9M433.5 158.4H437.8M433.5 143.4H435.9M433.5 128.3H437.8M433.5 113.3H435.9M433.5 98.2H437.8M433.5 83.2H435.9M433.5 68.2H437.8M433.5 53.1H435.9M433.5 38.1H437.8M433.5 23.0H435.9M433.5 8.0H437.8M433.5 188.5V184.2M457.9 188.5V186.1M482.2 188.5V184.2M506.6 188.5V186.1M530.9 188.5V184.2M555.2 188.5V186.1M579.6 188.5V184.2M604.0 188.5V186.1M628.3 188.5V184.2M652.6 188.5V186.1M677.0 188.5V184.2" stroke="#3a3a3a" stroke-width="1.1" fill="none"/>
<g font-size="15.2"><text transform="translate(423.3 192.8) scale(1 1.12)" text-anchor="end">-0.15</text><text transform="translate(423.3 162.7) scale(1 1.12)" text-anchor="end">-0.10</text><text transform="translate(423.3 132.7) scale(1 1.12)" text-anchor="end">-0.05</text><text transform="translate(423.3 102.6) scale(1 1.12)" text-anchor="end">0.00</text><text transform="translate(423.3 72.5) scale(1 1.12)" text-anchor="end">0.05</text><text transform="translate(423.3 42.4) scale(1 1.12)" text-anchor="end">0.10</text><text transform="translate(423.3 12.3) scale(1 1.12)" text-anchor="end">0.15</text><text transform="translate(433.5 207.4) scale(1 1.12)" text-anchor="middle">0</text><text transform="translate(482.2 207.4) scale(1 1.12)" text-anchor="middle">10</text><text transform="translate(530.9 207.4) scale(1 1.12)" text-anchor="middle">20</text><text transform="translate(579.6 207.4) scale(1 1.12)" text-anchor="middle">30</text><text transform="translate(628.3 207.4) scale(1 1.12)" text-anchor="middle">40</text><text transform="translate(677.0 207.4) scale(1 1.12)" text-anchor="middle">50</text></g>
<text x="557.4" y="224.4" font-size="15.85" text-anchor="middle">Time (s)</text>
<text x="529.8" y="260.7" font-size="22.0" text-anchor="middle">(b) Span 4</text>
<text transform="translate(386.0 164.3) rotate(-90)" font-size="15.5">Displacement,<tspan font-style="italic">u</tspan>(m)</text>
<line x1="437.5" y1="153.6" x2="464.6" y2="153.6" stroke="#2a2a2a" stroke-width="1.6"/>
<line x1="437.2" y1="167.0" x2="464.3" y2="167.0" stroke="#0000ff" stroke-width="1.3"/>
<circle cx="451.1" cy="167.0" r="2.2" fill="#0000ff"/>
<line x1="437.5" y1="181.0" x2="464.6" y2="181.0" stroke="#f01c24" stroke-width="1.3"/>
<path d="M451.1 178.2L453.4 181.0L451.1 183.8L448.7 181.0Z" fill="#fff" stroke="#f01c24" stroke-width="0.7"/>
<text x="472.0" y="158.8" font-size="11.8">CASE1</text>
<text x="472.0" y="172.2" font-size="11.8">CASE2</text>
<text x="472.0" y="186.2" font-size="11.8">CASE3</text></g>
<g><polyline points="63.3,370.4 65.5,369.0 67.3,368.7 69.5,371.5 71.8,368.7 73.5,373.0 75.2,379.9 77.5,376.0 80.0,365.0 82.0,357.0 85.0,358.0 88.0,362.0 91.0,368.0 93.7,370.9 96.0,366.0 99.8,368.1 102.0,372.0 104.5,362.0 107.5,350.0 110.0,356.0 112.5,358.0 114.6,359.2 117.0,362.0 119.5,365.3 121.5,370.0 123.7,377.4 126.0,380.0 128.5,375.0 131.0,368.0 133.0,360.0 136.0,358.0 139.0,360.0 140.7,362.6 143.0,352.0 145.0,360.0 147.0,380.0 150.0,392.0 153.0,398.0 157.1,403.3 157.7,430.1 159.0,433.0 161.0,420.0 163.0,395.0 165.0,352.0 168.0,330.0 172.0,325.0 176.1,308.9 178.0,320.0 179.4,346.3 181.0,350.0 183.0,365.0 185.0,390.0 188.6,431.4 191.0,420.0 193.5,390.0 195.0,372.0 197.0,360.0 199.0,340.0 201.8,324.0 204.4,320.0 206.0,335.0 207.5,355.0 209.5,380.0 211.6,399.4 214.0,390.0 216.0,370.0 219.0,345.0 221.0,345.0 222.5,360.0 224.0,385.0 226.8,426.8 229.0,410.0 231.0,385.0 233.0,360.0 236.0,335.0 240.0,322.0 242.5,320.0 244.5,340.0 246.0,370.0 248.0,400.0 249.5,417.0 252.0,412.0 255.0,405.0 256.5,385.0 258.5,365.0 261.0,368.0 264.0,365.0 268.0,375.0 271.0,380.0 274.0,367.0 278.0,362.0 280.7,376.4 283.3,369.2 287.0,368.0 293.8,369.2" fill="none" stroke="#000000" stroke-width="1.6" stroke-linejoin="round"/>
<polyline points="63.3,366.0 65.5,365.0 67.9,364.2 70.5,364.0 73.0,366.0 75.0,370.0 76.8,374.3 78.5,378.8 80.2,368.7 81.3,357.4 83.5,356.0 86.4,357.4 88.5,361.0 91.0,364.0 93.5,366.0 96.0,362.0 98.7,360.8 100.5,366.0 103.6,372.6 105.5,358.0 107.9,344.6 110.5,352.0 112.5,355.0 114.6,351.3 117.0,356.0 120.7,365.3 124.0,375.0 127.4,382.3 131.0,369.5 132.2,356.8 136.5,355.5 139.0,354.0 140.5,356.0 142.5,345.0 144.6,352.1 145.9,369.8 148.5,388.9 152.5,398.1 155.0,399.0 158.4,396.1 159.1,423.5 160.4,432.1 163.0,424.2 163.5,394.1 164.3,346.2 165.0,346.3 169.2,322.7 171.5,329.9 173.5,316.1 176.0,310.0 178.8,305.6 179.8,320.0 180.7,334.5 180.9,349.5 184.0,367.2 184.7,386.9 186.0,401.2 186.6,417.0 189.9,426.2 193.9,409.7 193.9,372.5 196.0,375.0 197.8,371.8 197.8,346.8 199.8,330.6 201.8,314.8 204.4,321.4 205.7,322.0 206.5,335.0 207.2,349.5 210.3,370.5 211.0,387.6 212.3,394.8 215.6,371.8 219.5,340.9 222.8,350.8 223.1,375.7 225.5,402.5 227.5,424.2 229.0,410.0 231.4,372.5 233.5,355.0 234.7,340.0 236.0,333.0 238.0,326.6 241.3,320.0 242.6,315.5 244.0,330.0 246.3,348.3 246.5,354.7 247.2,385.0 249.8,418.3 252.0,414.0 255.7,407.8 256.4,384.3 258.4,358.7 261.0,365.0 264.3,363.3 267.0,372.0 269.0,376.0 272.8,379.0 274.1,364.6 279.4,362.6 283.0,366.0 287.3,369.2 290.6,363.9 294.0,365.0" fill="none" stroke="#0000ff" stroke-width="1.6" stroke-linejoin="round"/>
<g fill="#0000ff"><circle cx="63.3" cy="366.0" r="2.3"/><circle cx="67.9" cy="364.2" r="2.3"/><circle cx="73.0" cy="366.0" r="2.3"/><circle cx="75.0" cy="370.0" r="2.3"/><circle cx="76.8" cy="374.3" r="2.3"/><circle cx="78.5" cy="378.8" r="2.3"/><circle cx="80.2" cy="368.7" r="2.3"/><circle cx="81.3" cy="357.4" r="2.3"/><circle cx="86.4" cy="357.4" r="2.3"/><circle cx="88.5" cy="361.0" r="2.3"/><circle cx="91.0" cy="364.0" r="2.3"/><circle cx="96.0" cy="362.0" r="2.3"/><circle cx="100.5" cy="366.0" r="2.3"/><circle cx="103.6" cy="372.6" r="2.3"/><circle cx="105.5" cy="358.0" r="2.3"/><circle cx="107.9" cy="344.6" r="2.3"/><circle cx="110.5" cy="352.0" r="2.3"/><circle cx="112.5" cy="355.0" r="2.3"/><circle cx="114.6" cy="351.3" r="2.3"/><circle cx="117.0" cy="356.0" r="2.3"/><circle cx="120.7" cy="365.3" r="2.3"/><circle cx="124.0" cy="375.0" r="2.3"/><circle cx="127.4" cy="382.3" r="2.3"/><circle cx="131.0" cy="369.5" r="2.3"/><circle cx="132.2" cy="356.8" r="2.3"/><circle cx="136.5" cy="355.5" r="2.3"/><circle cx="140.5" cy="356.0" r="2.3"/><circle cx="142.5" cy="345.0" r="2.3"/><circle cx="144.6" cy="352.1" r="2.3"/><circle cx="145.9" cy="369.8" r="2.3"/><circle cx="148.5" cy="388.9" r="2.3"/><circle cx="152.5" cy="398.1" r="2.3"/><circle cx="158.4" cy="396.1" r="2.3"/><circle cx="159.1" cy="423.5" r="2.3"/><circle cx="160.4" cy="432.1" r="2.3"/><circle cx="163.0" cy="424.2" r="2.3"/><circle cx="163.5" cy="394.1" r="2.3"/><circle cx="164.3" cy="346.2" r="2.3"/><circle cx="169.2" cy="322.7" r="2.3"/><circle cx="171.5" cy="329.9" r="2.3"/><circle cx="173.5" cy="316.1" r="2.3"/><circle cx="176.0" cy="310.0" r="2.3"/><circle cx="178.8" cy="305.6" r="2.3"/><circle cx="179.8" cy="320.0" r="2.3"/><circle cx="180.7" cy="334.5" r="2.3"/><circle cx="180.9" cy="349.5" r="2.3"/><circle cx="184.0" cy="367.2" r="2.3"/><circle cx="184.7" cy="386.9" r="2.3"/><circle cx="186.0" cy="401.2" r="2.3"/><circle cx="186.6" cy="417.0" r="2.3"/><circle cx="189.9" cy="426.2" r="2.3"/><circle cx="193.9" cy="409.7" r="2.3"/><circle cx="193.9" cy="372.5" r="2.3"/><circle cx="197.8" cy="371.8" r="2.3"/><circle cx="197.8" cy="346.8" r="2.3"/><circle cx="199.8" cy="330.6" r="2.3"/><circle cx="201.8" cy="314.8" r="2.3"/><circle cx="204.4" cy="321.4" r="2.3"/><circle cx="206.5" cy="335.0" r="2.3"/><circle cx="207.2" cy="349.5" r="2.3"/><circle cx="210.3" cy="370.5" r="2.3"/><circle cx="211.0" cy="387.6" r="2.3"/><circle cx="212.3" cy="394.8" r="2.3"/><circle cx="215.6" cy="371.8" r="2.3"/><circle cx="219.5" cy="340.9" r="2.3"/><circle cx="222.8" cy="350.8" r="2.3"/><circle cx="223.1" cy="375.7" r="2.3"/><circle cx="225.5" cy="402.5" r="2.3"/><circle cx="227.5" cy="424.2" r="2.3"/><circle cx="229.0" cy="410.0" r="2.3"/><circle cx="231.4" cy="372.5" r="2.3"/><circle cx="233.5" cy="355.0" r="2.3"/><circle cx="234.7" cy="340.0" r="2.3"/><circle cx="236.0" cy="333.0" r="2.3"/><circle cx="238.0" cy="326.6" r="2.3"/><circle cx="241.3" cy="320.0" r="2.3"/><circle cx="242.6" cy="315.5" r="2.3"/><circle cx="244.0" cy="330.0" r="2.3"/><circle cx="246.3" cy="348.3" r="2.3"/><circle cx="246.5" cy="354.7" r="2.3"/><circle cx="247.2" cy="385.0" r="2.3"/><circle cx="249.8" cy="418.3" r="2.3"/><circle cx="252.0" cy="414.0" r="2.3"/><circle cx="255.7" cy="407.8" r="2.3"/><circle cx="256.4" cy="384.3" r="2.3"/><circle cx="258.4" cy="358.7" r="2.3"/><circle cx="261.0" cy="365.0" r="2.3"/><circle cx="264.3" cy="363.3" r="2.3"/><circle cx="267.0" cy="372.0" r="2.3"/><circle cx="269.0" cy="376.0" r="2.3"/><circle cx="272.8" cy="379.0" r="2.3"/><circle cx="274.1" cy="364.6" r="2.3"/><circle cx="279.4" cy="362.6" r="2.3"/><circle cx="283.0" cy="366.0" r="2.3"/><circle cx="287.3" cy="369.2" r="2.3"/><circle cx="290.6" cy="363.9" r="2.3"/><circle cx="294.0" cy="365.0" r="2.3"/></g>
<polyline points="63.3,365.7 65.6,365.7 69.0,367.5 71.4,362.0 74.0,366.5 75.3,377.8 76.4,389.5 78.7,375.9 80.9,353.1 83.9,355.7 87.1,363.8 89.9,351.6 93.3,372.2 94.2,376.8 97.0,365.0 101.1,375.9 103.0,357.2 105.8,353.5 108.0,356.0 110.8,361.6 113.8,344.5 117.9,352.6 121.3,360.0 123.9,368.5 124.5,383.4 126.4,391.8 130.7,369.5 132.9,361.0 136.6,351.6 140.4,353.5 142.2,341.4 143.2,333.3 145.6,347.0 147.9,373.1 149.7,395.1 151.6,385.2 154.0,382.0 156.3,378.7 157.6,387.1 158.7,418.9 158.9,446.0 159.4,459.1 161.9,427.3 163.7,389.5 165.6,360.0 166.5,343.8 168.0,330.1 170.3,336.7 173.1,333.3 175.5,283.4 179.6,333.3 181.9,334.8 184.5,351.3 185.5,370.0 187.0,392.7 187.3,423.6 187.7,446.4 189.6,455.7 192.6,420.7 195.2,389.5 196.7,385.2 197.5,360.0 198.2,338.6 199.5,310.1 201.4,307.7 203.2,295.6 205.1,284.3 207.5,343.8 208.2,370.0 208.3,385.2 208.8,396.4 212.6,413.3 214.4,398.3 215.0,375.0 215.4,358.2 216.3,319.9 218.7,303.6 221.4,337.6 222.5,363.7 223.2,395.9 224.7,435.7 227.0,449.3 228.8,412.0 231.8,362.5 234.5,350.0 237.4,338.6 239.7,311.4 241.2,291.4 243.8,312.4 246.5,369.3 248.1,422.6 250.0,440.4 252.8,410.5 255.6,369.3 258.4,348.3 260.4,363.0 263.0,378.7 265.0,365.0 267.3,358.2 270.0,372.2 271.5,386.2 274.3,370.3 277.1,361.4 280.4,362.9 284.9,367.0 289.0,366.0 293.9,365.1" fill="none" stroke="#f01c24" stroke-width="1.6" stroke-linejoin="round"/>
<path d="M63.3 362.9L65.7 365.7L63.3 368.5L60.9 365.7ZM69.0 364.7L71.4 367.5L69.0 370.3L66.6 367.5ZM71.4 359.2L73.8 362.0L71.4 364.8L69.0 362.0ZM74.0 363.7L76.4 366.5L74.0 369.3L71.6 366.5ZM75.3 375.0L77.7 377.8L75.3 380.6L72.9 377.8ZM76.4 386.7L78.8 389.5L76.4 392.3L74.0 389.5ZM78.7 373.1L81.1 375.9L78.7 378.7L76.3 375.9ZM80.9 350.3L83.3 353.1L80.9 355.9L78.5 353.1ZM87.1 361.0L89.5 363.8L87.1 366.6L84.7 363.8ZM89.9 348.8L92.3 351.6L89.9 354.4L87.5 351.6ZM93.3 369.4L95.7 372.2L93.3 375.0L90.9 372.2ZM94.2 374.0L96.6 376.8L94.2 379.6L91.8 376.8ZM97.0 362.2L99.4 365.0L97.0 367.8L94.6 365.0ZM101.1 373.1L103.5 375.9L101.1 378.7L98.7 375.9ZM103.0 354.4L105.4 357.2L103.0 360.0L100.6 357.2ZM105.8 350.7L108.2 353.5L105.8 356.3L103.4 353.5ZM110.8 358.8L113.2 361.6L110.8 364.4L108.4 361.6ZM113.8 341.7L116.2 344.5L113.8 347.3L111.4 344.5ZM117.9 349.8L120.3 352.6L117.9 355.4L115.5 352.6ZM121.3 357.2L123.7 360.0L121.3 362.8L118.9 360.0ZM123.9 365.7L126.3 368.5L123.9 371.3L121.5 368.5ZM124.5 380.6L126.9 383.4L124.5 386.2L122.1 383.4ZM126.4 389.0L128.8 391.8L126.4 394.6L124.0 391.8ZM130.7 366.7L133.1 369.5L130.7 372.3L128.3 369.5ZM132.9 358.2L135.3 361.0L132.9 363.8L130.5 361.0ZM136.6 348.8L139.0 351.6L136.6 354.4L134.2 351.6ZM142.2 338.6L144.6 341.4L142.2 344.2L139.8 341.4ZM143.2 330.5L145.6 333.3L143.2 336.1L140.8 333.3ZM145.6 344.2L148.0 347.0L145.6 349.8L143.2 347.0ZM147.9 370.3L150.3 373.1L147.9 375.9L145.5 373.1ZM149.7 392.3L152.1 395.1L149.7 397.9L147.3 395.1ZM151.6 382.4L154.0 385.2L151.6 388.0L149.2 385.2ZM156.3 375.9L158.7 378.7L156.3 381.5L153.9 378.7ZM157.6 384.3L160.0 387.1L157.6 389.9L155.2 387.1ZM158.7 416.1L161.1 418.9L158.7 421.7L156.3 418.9ZM158.9 443.2L161.3 446.0L158.9 448.8L156.5 446.0ZM159.4 456.3L161.8 459.1L159.4 461.9L157.0 459.1ZM161.9 424.5L164.3 427.3L161.9 430.1L159.5 427.3ZM163.7 386.7L166.1 389.5L163.7 392.3L161.3 389.5ZM165.6 357.2L168.0 360.0L165.6 362.8L163.2 360.0ZM166.5 341.0L168.9 343.8L166.5 346.6L164.1 343.8ZM168.0 327.3L170.4 330.1L168.0 332.9L165.6 330.1ZM170.3 333.9L172.7 336.7L170.3 339.5L167.9 336.7ZM175.5 280.6L177.9 283.4L175.5 286.2L173.1 283.4ZM179.6 330.5L182.0 333.3L179.6 336.1L177.2 333.3ZM184.5 348.5L186.9 351.3L184.5 354.1L182.1 351.3ZM185.5 367.2L187.9 370.0L185.5 372.8L183.1 370.0ZM187.0 389.9L189.4 392.7L187.0 395.5L184.6 392.7ZM187.3 420.8L189.7 423.6L187.3 426.4L184.9 423.6ZM187.7 443.6L190.1 446.4L187.7 449.2L185.3 446.4ZM189.6 452.9L192.0 455.7L189.6 458.5L187.2 455.7ZM192.6 417.9L195.0 420.7L192.6 423.5L190.2 420.7ZM195.2 386.7L197.6 389.5L195.2 392.3L192.8 389.5ZM196.7 382.4L199.1 385.2L196.7 388.0L194.3 385.2ZM197.5 357.2L199.9 360.0L197.5 362.8L195.1 360.0ZM198.2 335.8L200.6 338.6L198.2 341.4L195.8 338.6ZM199.5 307.3L201.9 310.1L199.5 312.9L197.1 310.1ZM203.2 292.8L205.6 295.6L203.2 298.4L200.8 295.6ZM205.1 281.5L207.5 284.3L205.1 287.1L202.7 284.3ZM207.5 341.0L209.9 343.8L207.5 346.6L205.1 343.8ZM208.2 367.2L210.6 370.0L208.2 372.8L205.8 370.0ZM208.3 382.4L210.7 385.2L208.3 388.0L205.9 385.2ZM208.8 393.6L211.2 396.4L208.8 399.2L206.4 396.4ZM212.6 410.5L215.0 413.3L212.6 416.1L210.2 413.3ZM214.4 395.5L216.8 398.3L214.4 401.1L212.0 398.3ZM215.0 372.2L217.4 375.0L215.0 377.8L212.6 375.0ZM215.4 355.4L217.8 358.2L215.4 361.0L213.0 358.2ZM216.3 317.1L218.7 319.9L216.3 322.7L213.9 319.9ZM218.7 300.8L221.1 303.6L218.7 306.4L216.3 303.6ZM221.4 334.8L223.8 337.6L221.4 340.4L219.0 337.6ZM222.5 360.9L224.9 363.7L222.5 366.5L220.1 363.7ZM223.2 393.1L225.6 395.9L223.2 398.7L220.8 395.9ZM224.7 432.9L227.1 435.7L224.7 438.5L222.3 435.7ZM227.0 446.5L229.4 449.3L227.0 452.1L224.6 449.3ZM228.8 409.2L231.2 412.0L228.8 414.8L226.4 412.0ZM231.8 359.7L234.2 362.5L231.8 365.3L229.4 362.5ZM234.5 347.2L236.9 350.0L234.5 352.8L232.1 350.0ZM237.4 335.8L239.8 338.6L237.4 341.4L235.0 338.6ZM239.7 308.6L242.1 311.4L239.7 314.2L237.3 311.4ZM241.2 288.6L243.6 291.4L241.2 294.2L238.8 291.4ZM243.8 309.6L246.2 312.4L243.8 315.2L241.4 312.4ZM246.5 366.5L248.9 369.3L246.5 372.1L244.1 369.3ZM248.1 419.8L250.5 422.6L248.1 425.4L245.7 422.6ZM250.0 437.6L252.4 440.4L250.0 443.2L247.6 440.4ZM252.8 407.7L255.2 410.5L252.8 413.3L250.4 410.5ZM255.6 366.5L258.0 369.3L255.6 372.1L253.2 369.3ZM258.4 345.5L260.8 348.3L258.4 351.1L256.0 348.3ZM260.4 360.2L262.8 363.0L260.4 365.8L258.0 363.0ZM263.0 375.9L265.4 378.7L263.0 381.5L260.6 378.7ZM265.0 362.2L267.4 365.0L265.0 367.8L262.6 365.0ZM267.3 355.4L269.7 358.2L267.3 361.0L264.9 358.2ZM270.0 369.4L272.4 372.2L270.0 375.0L267.6 372.2ZM271.5 383.4L273.9 386.2L271.5 389.0L269.1 386.2ZM274.3 367.5L276.7 370.3L274.3 373.1L271.9 370.3ZM277.1 358.6L279.5 361.4L277.1 364.2L274.7 361.4ZM284.9 364.2L287.3 367.0L284.9 369.8L282.5 367.0ZM293.9 362.3L296.3 365.1L293.9 367.9L291.5 365.1Z" fill="#fff" stroke="#f01c24" stroke-width="0.7"/>
<rect x="63.0" y="280.5" width="240.5" height="179.0" fill="none" stroke="#3a3a3a" stroke-width="1.1"/>
<path d="M63.0 459.5H67.3M63.0 444.6H65.4M63.0 429.7H67.3M63.0 414.8H65.4M63.0 399.8H67.3M63.0 384.9H65.4M63.0 370.0H67.3M63.0 355.1H65.4M63.0 340.2H67.3M63.0 325.2H65.4M63.0 310.3H67.3M63.0 295.4H65.4M63.0 280.5H67.3M63.0 459.5V455.2M87.0 459.5V457.1M111.1 459.5V455.2M135.1 459.5V457.1M159.2 459.5V455.2M183.2 459.5V457.1M207.3 459.5V455.2M231.3 459.5V457.1M255.4 459.5V455.2M279.5 459.5V457.1M303.5 459.5V455.2" stroke="#3a3a3a" stroke-width="1.1" fill="none"/>
<g font-size="15.2"><text transform="translate(50.1 463.6) scale(1 1.12)" text-anchor="end">-0.15</text><text transform="translate(50.1 433.8) scale(1 1.12)" text-anchor="end">-0.10</text><text transform="translate(50.1 404.0) scale(1 1.12)" text-anchor="end">-0.05</text><text transform="translate(50.1 374.1) scale(1 1.12)" text-anchor="end">0.00</text><text transform="translate(50.1 344.3) scale(1 1.12)" text-anchor="end">0.05</text><text transform="translate(50.1 314.5) scale(1 1.12)" text-anchor="end">0.10</text><text transform="translate(50.1 284.6) scale(1 1.12)" text-anchor="end">0.15</text><text transform="translate(63.0 480.9) scale(1 1.12)" text-anchor="middle">0</text><text transform="translate(111.1 480.9) scale(1 1.12)" text-anchor="middle">10</text><text transform="translate(159.2 480.9) scale(1 1.12)" text-anchor="middle">20</text><text transform="translate(207.3 480.9) scale(1 1.12)" text-anchor="middle">30</text><text transform="translate(255.4 480.9) scale(1 1.12)" text-anchor="middle">40</text><text transform="translate(303.5 480.9) scale(1 1.12)" text-anchor="middle">50</text></g>
<text x="185.1" y="497.2" font-size="15.55" text-anchor="middle">Time (s)</text>
<text x="156.7" y="528.2" font-size="22.0" text-anchor="middle">(c) Span 5</text>
<text transform="translate(13.1 434.3) rotate(-90)" font-size="15.5">Displacement,<tspan font-style="italic">u</tspan>(m)</text>
<line x1="67.5" y1="422.2" x2="94.6" y2="422.2" stroke="#2a2a2a" stroke-width="1.6"/>
<line x1="67.2" y1="435.8" x2="94.3" y2="435.8" stroke="#0000ff" stroke-width="1.3"/>
<circle cx="81.0" cy="435.8" r="2.2" fill="#0000ff"/>
<line x1="67.5" y1="449.4" x2="94.6" y2="449.4" stroke="#f01c24" stroke-width="1.3"/>
<path d="M81.0 446.6L83.5 449.4L81.0 452.2L78.6 449.4Z" fill="#fff" stroke="#f01c24" stroke-width="0.7"/>
<text x="101.5" y="427.4" font-size="11.8">CASE1</text>
<text x="101.5" y="441.0" font-size="11.8">CASE2</text>
<text x="101.5" y="454.6" font-size="11.8">CASE3</text></g>
<g><polyline points="436.5,367.0 439.0,366.4 442.9,368.1 445.1,374.2 447.4,379.8 449.5,368.0 451.3,360.8 451.3,344.5 452.5,358.0 453.6,370.9 456.4,374.8 459.0,368.0 461.0,362.0 463.1,363.6 464.5,375.0 465.9,384.3 467.6,374.8 468.1,354.1 470.0,362.0 471.5,365.3 475.4,364.7 476.5,351.8 480.5,367.5 483.0,371.0 486.0,362.0 489.0,374.0 491.5,377.0 494.3,380.0 497.0,372.0 499.7,366.0 501.8,350.0 505.0,362.0 507.7,358.5 510.0,365.0 513.5,368.5 517.1,363.5 518.0,378.0 519.5,393.0 521.5,396.0 523.8,383.8 526.4,374.6 529.0,395.0 530.0,409.2 531.5,385.0 531.7,362.1 531.8,333.4 533.0,304.5 535.6,324.8 537.8,315.0 539.6,309.7 540.1,330.0 540.7,350.0 541.5,364.1 544.0,352.0 547.4,335.3 548.1,361.4 549.4,395.0 552.0,413.0 554.7,378.5 556.5,400.0 558.6,420.9 560.8,395.0 561.7,373.3 562.5,339.3 564.5,316.3 566.5,329.4 568.5,345.8 570.1,330.0 571.7,316.3 573.7,340.0 576.3,365.4 579.0,382.5 581.6,439.9 584.2,402.5 585.5,370.0 586.9,352.0 589.5,321.5 592.1,338.6 593.0,357.0 593.4,378.0 592.8,407.0 593.1,423.5 595.8,432.0 596.8,411.7 598.0,379.2 599.5,345.0 600.1,329.4 600.8,318.3 602.5,322.0 604.7,328.8 608.0,336.6 609.3,347.8 612.6,358.0 614.6,376.5 615.2,390.3 616.3,412.3 618.1,432.0 620.0,410.0 621.1,393.0 621.8,375.0 622.4,356.2 622.5,334.7 624.1,326.1 626.4,340.6 628.4,348.5 630.3,369.3 634.3,382.5 635.6,375.9 637.5,358.1 640.2,364.1 642.8,383.1 644.0,365.0 645.4,354.9 646.1,347.8 648.5,358.0 652.0,370.6 655.9,364.1 659.9,368.7 664.5,365.4 667.1,363.4 670.4,367.3 672.5,368.0" fill="none" stroke="#000000" stroke-width="1.6" stroke-linejoin="round"/>
<polyline points="436.0,367.0 438.5,366.4 442.4,368.1 444.6,374.2 446.9,379.8 449.0,368.0 450.8,360.8 450.8,344.5 452.0,358.0 453.1,370.9 455.9,374.8 458.5,368.0 460.5,362.0 462.6,363.6 464.0,375.0 465.4,384.3 467.1,374.8 467.6,354.1 469.5,362.0 471.0,365.3 474.9,364.7 476.0,351.8 480.0,367.5 482.5,371.0 485.5,362.0 488.5,374.0 491.0,377.0 493.8,380.0 496.5,372.0 499.2,366.0 501.3,350.0 504.5,362.0 507.2,358.5 509.5,365.0 513.0,368.5 516.6,363.5 517.5,378.0 519.0,393.0 521.0,396.0 523.3,383.8 525.9,374.6 528.5,395.0 529.5,409.2 531.0,385.0 531.2,362.1 531.3,333.4 532.5,304.5 535.1,324.8 537.3,315.0 539.1,309.7 539.6,330.0 540.2,350.0 541.0,364.1 543.5,352.0 546.9,335.3 547.6,361.4 548.9,395.0 551.5,413.0 554.2,378.5 556.0,400.0 558.1,420.9 560.3,395.0 561.2,373.3 562.0,339.3 564.0,316.3 566.0,329.4 568.0,345.8 569.6,330.0 571.2,316.3 573.2,340.0 575.8,365.4 578.5,382.5 581.1,439.9 583.7,402.5 585.0,370.0 586.4,352.0 589.0,321.5 591.6,338.6 592.5,357.0 592.9,378.0 592.3,407.0 592.6,423.5 595.3,432.0 596.3,411.7 597.5,379.2 599.0,345.0 599.6,329.4 600.3,318.3 602.0,322.0 604.2,328.8 607.5,336.6 608.8,347.8 612.1,358.0 614.1,376.5 614.7,390.3 615.8,412.3 617.6,432.0 619.5,410.0 620.6,393.0 621.3,375.0 621.9,356.2 622.0,334.7 623.6,326.1 625.9,340.6 627.9,348.5 629.8,369.3 633.8,382.5 635.1,375.9 637.0,358.1 639.7,364.1 642.3,383.1 643.5,365.0 644.9,354.9 645.6,347.8 648.0,358.0 651.5,370.6 655.4,364.1 659.4,368.7 664.0,365.4 666.6,363.4 669.9,367.3 672.0,368.0" fill="none" stroke="#0000ff" stroke-width="1.6" stroke-linejoin="round"/>
<g fill="#0000ff"><circle cx="436.0" cy="367.0" r="2.3"/><circle cx="442.4" cy="368.1" r="2.3"/><circle cx="444.6" cy="374.2" r="2.3"/><circle cx="446.9" cy="379.8" r="2.3"/><circle cx="449.0" cy="368.0" r="2.3"/><circle cx="450.8" cy="360.8" r="2.3"/><circle cx="450.8" cy="344.5" r="2.3"/><circle cx="452.0" cy="358.0" r="2.3"/><circle cx="453.1" cy="370.9" r="2.3"/><circle cx="455.9" cy="374.8" r="2.3"/><circle cx="458.5" cy="368.0" r="2.3"/><circle cx="460.5" cy="362.0" r="2.3"/><circle cx="464.0" cy="375.0" r="2.3"/><circle cx="465.4" cy="384.3" r="2.3"/><circle cx="467.1" cy="374.8" r="2.3"/><circle cx="467.6" cy="354.1" r="2.3"/><circle cx="469.5" cy="362.0" r="2.3"/><circle cx="471.0" cy="365.3" r="2.3"/><circle cx="474.9" cy="364.7" r="2.3"/><circle cx="476.0" cy="351.8" r="2.3"/><circle cx="480.0" cy="367.5" r="2.3"/><circle cx="482.5" cy="371.0" r="2.3"/><circle cx="485.5" cy="362.0" r="2.3"/><circle cx="488.5" cy="374.0" r="2.3"/><circle cx="491.0" cy="377.0" r="2.3"/><circle cx="493.8" cy="380.0" r="2.3"/><circle cx="496.5" cy="372.0" r="2.3"/><circle cx="499.2" cy="366.0" r="2.3"/><circle cx="501.3" cy="350.0" r="2.3"/><circle cx="504.5" cy="362.0" r="2.3"/><circle cx="507.2" cy="358.5" r="2.3"/><circle cx="509.5" cy="365.0" r="2.3"/><circle cx="513.0" cy="368.5" r="2.3"/><circle cx="516.6" cy="363.5" r="2.3"/><circle cx="517.5" cy="378.0" r="2.3"/><circle cx="519.0" cy="393.0" r="2.3"/><circle cx="521.0" cy="396.0" r="2.3"/><circle cx="523.3" cy="383.8" r="2.3"/><circle cx="525.9" cy="374.6" r="2.3"/><circle cx="528.5" cy="395.0" r="2.3"/><circle cx="529.5" cy="409.2" r="2.3"/><circle cx="531.0" cy="385.0" r="2.3"/><circle cx="531.2" cy="362.1" r="2.3"/><circle cx="531.3" cy="333.4" r="2.3"/><circle cx="532.5" cy="304.5" r="2.3"/><circle cx="535.1" cy="324.8" r="2.3"/><circle cx="537.3" cy="315.0" r="2.3"/><circle cx="539.1" cy="309.7" r="2.3"/><circle cx="539.6" cy="330.0" r="2.3"/><circle cx="540.2" cy="350.0" r="2.3"/><circle cx="541.0" cy="364.1" r="2.3"/><circle cx="543.5" cy="352.0" r="2.3"/><circle cx="546.9" cy="335.3" r="2.3"/><circle cx="547.6" cy="361.4" r="2.3"/><circle cx="548.9" cy="395.0" r="2.3"/><circle cx="551.5" cy="413.0" r="2.3"/><circle cx="554.2" cy="378.5" r="2.3"/><circle cx="556.0" cy="400.0" r="2.3"/><circle cx="558.1" cy="420.9" r="2.3"/><circle cx="560.3" cy="395.0" r="2.3"/><circle cx="561.2" cy="373.3" r="2.3"/><circle cx="562.0" cy="339.3" r="2.3"/><circle cx="564.0" cy="316.3" r="2.3"/><circle cx="566.0" cy="329.4" r="2.3"/><circle cx="568.0" cy="345.8" r="2.3"/><circle cx="569.6" cy="330.0" r="2.3"/><circle cx="571.2" cy="316.3" r="2.3"/><circle cx="573.2" cy="340.0" r="2.3"/><circle cx="575.8" cy="365.4" r="2.3"/><circle cx="578.5" cy="382.5" r="2.3"/><circle cx="581.1" cy="439.9" r="2.3"/><circle cx="583.7" cy="402.5" r="2.3"/><circle cx="585.0" cy="370.0" r="2.3"/><circle cx="586.4" cy="352.0" r="2.3"/><circle cx="589.0" cy="321.5" r="2.3"/><circle cx="591.6" cy="338.6" r="2.3"/><circle cx="592.5" cy="357.0" r="2.3"/><circle cx="592.9" cy="378.0" r="2.3"/><circle cx="592.3" cy="407.0" r="2.3"/><circle cx="592.6" cy="423.5" r="2.3"/><circle cx="595.3" cy="432.0" r="2.3"/><circle cx="596.3" cy="411.7" r="2.3"/><circle cx="597.5" cy="379.2" r="2.3"/><circle cx="599.0" cy="345.0" r="2.3"/><circle cx="599.6" cy="329.4" r="2.3"/><circle cx="600.3" cy="318.3" r="2.3"/><circle cx="602.0" cy="322.0" r="2.3"/><circle cx="604.2" cy="328.8" r="2.3"/><circle cx="607.5" cy="336.6" r="2.3"/><circle cx="608.8" cy="347.8" r="2.3"/><circle cx="612.1" cy="358.0" r="2.3"/><circle cx="614.1" cy="376.5" r="2.3"/><circle cx="614.7" cy="390.3" r="2.3"/><circle cx="615.8" cy="412.3" r="2.3"/><circle cx="617.6" cy="432.0" r="2.3"/><circle cx="619.5" cy="410.0" r="2.3"/><circle cx="620.6" cy="393.0" r="2.3"/><circle cx="621.3" cy="375.0" r="2.3"/><circle cx="621.9" cy="356.2" r="2.3"/><circle cx="622.0" cy="334.7" r="2.3"/><circle cx="623.6" cy="326.1" r="2.3"/><circle cx="625.9" cy="340.6" r="2.3"/><circle cx="627.9" cy="348.5" r="2.3"/><circle cx="629.8" cy="369.3" r="2.3"/><circle cx="633.8" cy="382.5" r="2.3"/><circle cx="635.1" cy="375.9" r="2.3"/><circle cx="637.0" cy="358.1" r="2.3"/><circle cx="639.7" cy="364.1" r="2.3"/><circle cx="642.3" cy="383.1" r="2.3"/><circle cx="643.5" cy="365.0" r="2.3"/><circle cx="644.9" cy="354.9" r="2.3"/><circle cx="645.6" cy="347.8" r="2.3"/><circle cx="648.0" cy="358.0" r="2.3"/><circle cx="651.5" cy="370.6" r="2.3"/><circle cx="655.4" cy="364.1" r="2.3"/><circle cx="659.4" cy="368.7" r="2.3"/><circle cx="664.0" cy="365.4" r="2.3"/><circle cx="669.9" cy="367.3" r="2.3"/></g>
<polyline points="436.0,367.0 439.5,368.5 441.3,372.2 444.7,382.1 447.9,366.0 452.2,345.1 454.4,365.7 455.4,372.1 457.2,368.4 459.7,360.6 461.9,374.6 463.8,385.8 466.6,363.7 468.4,353.5 470.3,368.0 473.5,361.0 475.9,351.6 478.7,362.9 481.5,371.8 485.3,360.6 488.1,374.4 493.3,380.6 496.0,372.0 498.9,366.2 500.8,348.3 504.0,362.9 506.8,357.6 509.0,364.7 512.7,368.5 516.1,362.5 516.5,379.6 518.9,398.3 521.5,390.0 524.5,381.5 526.4,373.5 527.3,393.3 531.1,410.1 532.6,349.8 534.4,303.0 536.3,330.1 539.5,305.8 540.4,350.7 540.8,361.9 544.1,338.2 548.1,372.2 548.5,404.5 549.4,413.3 553.1,377.8 554.4,404.9 556.1,423.6 558.5,400.0 561.5,373.1 562.3,358.7 564.1,313.3 567.9,348.8 570.3,313.3 574.4,373.1 577.2,401.1 578.5,425.0 580.0,432.0 581.9,384.3 582.6,348.3 584.7,366.6 587.5,319.9 589.4,345.0 591.3,373.1 591.6,418.9 593.5,434.4 596.9,385.2 599.7,340.4 602.8,318.9 603.4,337.6 604.0,346.0 608.4,351.6 613.3,362.9 615.2,406.4 617.4,432.0 621.5,369.7 624.5,328.3 629.0,358.2 631.4,378.7 632.0,384.3 635.5,361.6 641.7,385.2 645.5,348.3 649.2,359.1 653.9,368.5 657.6,367.0 663.2,369.4 669.4,367.0" fill="none" stroke="#f01c24" stroke-width="1.6" stroke-linejoin="round"/>
<path d="M436.0 364.2L438.4 367.0L436.0 369.8L433.6 367.0ZM441.3 369.4L443.7 372.2L441.3 375.0L438.9 372.2ZM444.7 379.3L447.1 382.1L444.7 384.9L442.3 382.1ZM447.9 363.2L450.3 366.0L447.9 368.8L445.5 366.0ZM452.2 342.3L454.6 345.1L452.2 347.9L449.8 345.1ZM454.4 362.9L456.8 365.7L454.4 368.5L452.0 365.7ZM455.4 369.3L457.8 372.1L455.4 374.9L453.0 372.1ZM459.7 357.8L462.1 360.6L459.7 363.4L457.3 360.6ZM461.9 371.8L464.3 374.6L461.9 377.4L459.5 374.6ZM463.8 383.0L466.2 385.8L463.8 388.6L461.4 385.8ZM466.6 360.9L469.0 363.7L466.6 366.5L464.2 363.7ZM468.4 350.7L470.8 353.5L468.4 356.3L466.0 353.5ZM470.3 365.2L472.7 368.0L470.3 370.8L467.9 368.0ZM473.5 358.2L475.9 361.0L473.5 363.8L471.1 361.0ZM475.9 348.8L478.3 351.6L475.9 354.4L473.5 351.6ZM478.7 360.1L481.1 362.9L478.7 365.7L476.3 362.9ZM481.5 369.0L483.9 371.8L481.5 374.6L479.1 371.8ZM485.3 357.8L487.7 360.6L485.3 363.4L482.9 360.6ZM488.1 371.6L490.5 374.4L488.1 377.2L485.7 374.4ZM493.3 377.8L495.7 380.6L493.3 383.4L490.9 380.6ZM496.0 369.2L498.4 372.0L496.0 374.8L493.6 372.0ZM498.9 363.4L501.3 366.2L498.9 369.0L496.5 366.2ZM500.8 345.5L503.2 348.3L500.8 351.1L498.4 348.3ZM504.0 360.1L506.4 362.9L504.0 365.7L501.6 362.9ZM506.8 354.8L509.2 357.6L506.8 360.4L504.4 357.6ZM509.0 361.9L511.4 364.7L509.0 367.5L506.6 364.7ZM512.7 365.7L515.1 368.5L512.7 371.3L510.3 368.5ZM516.1 359.7L518.5 362.5L516.1 365.3L513.7 362.5ZM516.5 376.8L518.9 379.6L516.5 382.4L514.1 379.6ZM518.9 395.5L521.3 398.3L518.9 401.1L516.5 398.3ZM521.5 387.2L523.9 390.0L521.5 392.8L519.1 390.0ZM524.5 378.7L526.9 381.5L524.5 384.3L522.1 381.5ZM526.4 370.7L528.8 373.5L526.4 376.3L524.0 373.5ZM527.3 390.5L529.7 393.3L527.3 396.1L524.9 393.3ZM531.1 407.3L533.5 410.1L531.1 412.9L528.7 410.1ZM532.6 347.0L535.0 349.8L532.6 352.6L530.2 349.8ZM534.4 300.2L536.8 303.0L534.4 305.8L532.0 303.0ZM536.3 327.3L538.7 330.1L536.3 332.9L533.9 330.1ZM539.5 303.0L541.9 305.8L539.5 308.6L537.1 305.8ZM540.4 347.9L542.8 350.7L540.4 353.5L538.0 350.7ZM540.8 359.1L543.2 361.9L540.8 364.7L538.4 361.9ZM544.1 335.4L546.5 338.2L544.1 341.0L541.7 338.2ZM548.1 369.4L550.5 372.2L548.1 375.0L545.7 372.2ZM548.5 401.7L550.9 404.5L548.5 407.3L546.1 404.5ZM549.4 410.5L551.8 413.3L549.4 416.1L547.0 413.3ZM553.1 375.0L555.5 377.8L553.1 380.6L550.7 377.8ZM554.4 402.1L556.8 404.9L554.4 407.7L552.0 404.9ZM556.1 420.8L558.5 423.6L556.1 426.4L553.7 423.6ZM558.5 397.2L560.9 400.0L558.5 402.8L556.1 400.0ZM561.5 370.3L563.9 373.1L561.5 375.9L559.1 373.1ZM562.3 355.9L564.7 358.7L562.3 361.5L559.9 358.7ZM564.1 310.5L566.5 313.3L564.1 316.1L561.7 313.3ZM567.9 346.0L570.3 348.8L567.9 351.6L565.5 348.8ZM570.3 310.5L572.7 313.3L570.3 316.1L567.9 313.3ZM574.4 370.3L576.8 373.1L574.4 375.9L572.0 373.1ZM577.2 398.3L579.6 401.1L577.2 403.9L574.8 401.1ZM578.5 422.2L580.9 425.0L578.5 427.8L576.1 425.0ZM580.0 429.2L582.4 432.0L580.0 434.8L577.6 432.0ZM581.9 381.5L584.3 384.3L581.9 387.1L579.5 384.3ZM582.6 345.5L585.0 348.3L582.6 351.1L580.2 348.3ZM584.7 363.8L587.1 366.6L584.7 369.4L582.3 366.6ZM587.5 317.1L589.9 319.9L587.5 322.7L585.1 319.9ZM589.4 342.2L591.8 345.0L589.4 347.8L587.0 345.0ZM591.3 370.3L593.7 373.1L591.3 375.9L588.9 373.1ZM591.6 416.1L594.0 418.9L591.6 421.7L589.2 418.9ZM593.5 431.6L595.9 434.4L593.5 437.2L591.1 434.4ZM596.9 382.4L599.3 385.2L596.9 388.0L594.5 385.2ZM599.7 337.6L602.1 340.4L599.7 343.2L597.3 340.4ZM602.8 316.1L605.2 318.9L602.8 321.7L600.4 318.9ZM603.4 334.8L605.8 337.6L603.4 340.4L601.0 337.6ZM604.0 343.2L606.4 346.0L604.0 348.8L601.6 346.0ZM608.4 348.8L610.8 351.6L608.4 354.4L606.0 351.6ZM613.3 360.1L615.7 362.9L613.3 365.7L610.9 362.9ZM615.2 403.6L617.6 406.4L615.2 409.2L612.8 406.4ZM617.4 429.2L619.8 432.0L617.4 434.8L615.0 432.0ZM621.5 366.9L623.9 369.7L621.5 372.5L619.1 369.7ZM624.5 325.5L626.9 328.3L624.5 331.1L622.1 328.3ZM629.0 355.4L631.4 358.2L629.0 361.0L626.6 358.2ZM631.4 375.9L633.8 378.7L631.4 381.5L629.0 378.7ZM632.0 381.5L634.4 384.3L632.0 387.1L629.6 384.3ZM635.5 358.8L637.9 361.6L635.5 364.4L633.1 361.6ZM641.7 382.4L644.1 385.2L641.7 388.0L639.3 385.2ZM645.5 345.5L647.9 348.3L645.5 351.1L643.1 348.3ZM649.2 356.3L651.6 359.1L649.2 361.9L646.8 359.1ZM653.9 365.7L656.3 368.5L653.9 371.3L651.5 368.5ZM663.2 366.6L665.6 369.4L663.2 372.2L660.8 369.4ZM669.4 364.2L671.8 367.0L669.4 369.8L667.0 367.0Z" fill="#fff" stroke="#f01c24" stroke-width="0.7"/>
<rect x="435.2" y="279.5" width="241.2" height="178.9" fill="none" stroke="#3a3a3a" stroke-width="1.1"/>
<path d="M435.2 458.4H439.5M435.2 443.5H437.6M435.2 428.6H439.5M435.2 413.7H437.6M435.2 398.8H439.5M435.2 383.9H437.6M435.2 368.9H439.5M435.2 354.0H437.6M435.2 339.1H439.5M435.2 324.2H437.6M435.2 309.3H439.5M435.2 294.4H437.6M435.2 279.5H439.5M435.2 458.4V454.1M459.3 458.4V456.0M483.4 458.4V454.1M507.6 458.4V456.0M531.7 458.4V454.1M555.8 458.4V456.0M579.9 458.4V454.1M604.0 458.4V456.0M628.2 458.4V454.1M652.3 458.4V456.0M676.4 458.4V454.1" stroke="#3a3a3a" stroke-width="1.1" fill="none"/>
<g font-size="15.2"><text transform="translate(423.8 462.7) scale(1 1.12)" text-anchor="end">-0.12</text><text transform="translate(423.8 432.9) scale(1 1.12)" text-anchor="end">-0.08</text><text transform="translate(423.8 403.1) scale(1 1.12)" text-anchor="end">-0.04</text><text transform="translate(423.8 373.3) scale(1 1.12)" text-anchor="end">0.00</text><text transform="translate(423.8 343.5) scale(1 1.12)" text-anchor="end">0.04</text><text transform="translate(423.8 313.6) scale(1 1.12)" text-anchor="end">0.08</text><text transform="translate(423.8 283.8) scale(1 1.12)" text-anchor="end">0.12</text><text transform="translate(435.2 477.7) scale(1 1.12)" text-anchor="middle">0</text><text transform="translate(483.4 477.7) scale(1 1.12)" text-anchor="middle">10</text><text transform="translate(531.7 477.7) scale(1 1.12)" text-anchor="middle">20</text><text transform="translate(579.9 477.7) scale(1 1.12)" text-anchor="middle">30</text><text transform="translate(628.2 477.7) scale(1 1.12)" text-anchor="middle">40</text><text transform="translate(676.4 477.7) scale(1 1.12)" text-anchor="middle">50</text></g>
<text x="559.0" y="494.9" font-size="15.60" text-anchor="middle">Time (s)</text>
<text x="529.6" y="528.2" font-size="22.0" text-anchor="middle">(d) Span 7</text>
<text transform="translate(385.6 437.6) rotate(-90)" font-size="15.4">Displacement,<tspan font-style="italic">u</tspan>(m)</text>
<line x1="440.4" y1="420.7" x2="466.6" y2="420.7" stroke="#2a2a2a" stroke-width="1.6"/>
<line x1="440.1" y1="434.2" x2="466.3" y2="434.2" stroke="#0000ff" stroke-width="1.3"/>
<circle cx="453.5" cy="434.2" r="2.2" fill="#0000ff"/>
<line x1="440.4" y1="447.9" x2="466.6" y2="447.9" stroke="#f01c24" stroke-width="1.3"/>
<path d="M453.5 445.1L455.9 447.9L453.5 450.7L451.1 447.9Z" fill="#fff" stroke="#f01c24" stroke-width="0.7"/>
<text x="474.0" y="425.9" font-size="11.8">CASE1</text>
<text x="474.0" y="439.4" font-size="11.8">CASE2</text>
<text x="474.0" y="453.1" font-size="11.8">CASE3</text></g>
</svg>
</body></html>
